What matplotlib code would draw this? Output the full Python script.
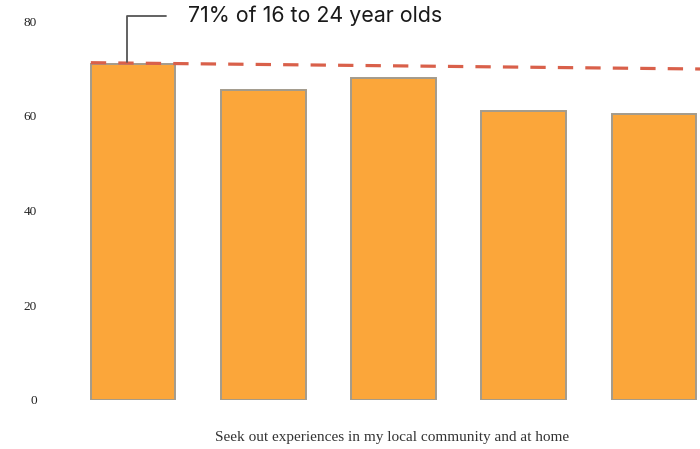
import matplotlib
matplotlib.use("Agg")
import matplotlib.pyplot as plt
import numpy as np

# share of respondents per age band who seek out local experiences
age_groups = ["16-24", "25-34", "35-44", "45-54", "55+"]
shares = [71, 65.5, 68, 61, 60.3]
trend = [71.2, 69.8]  # dashed guide from the first bar across the chart
y_ticks = [0, 20, 40, 60, 80]
x_label = "Seek out experiences in my local community and at home"
callout = "71% of 16 to 24 year olds"

BAR_FACE = "#FBA63A"
BAR_EDGE = "#A39B8C"
GUIDE = "#D9604A"

fig = plt.figure(figsize=(7.0, 4.49), dpi=100)
ax = fig.add_axes([70 / 700, 49 / 449, 630 / 700, 379 / 449])

x = np.arange(len(age_groups))
w = 0.65
ax.bar(x, shares, w, facecolor=BAR_FACE, edgecolor=BAR_EDGE, linewidth=1.4,
       zorder=2)

guide, = ax.plot([x[0] - w / 2, x[-1] + 0.6], trend, color=GUIDE, lw=2.3,
                 zorder=3, solid_capstyle="butt")
guide.set_dashes((4.8, 3.8))

# callout: elbow connector from the first bar up to the label
ax.annotate(callout, xy=(x[0] - 0.05, shares[0] + 0.4), xycoords="data",
            xytext=(188, 433), textcoords="figure pixels",
            ha="left", va="center", fontsize=15.4, family="Inter",
            color="#1a1a1a",
            arrowprops=dict(arrowstyle="-", color="#555555", lw=1.3,
                            connectionstyle="angle,angleA=0,angleB=90,rad=0",
                            shrinkA=14, shrinkB=0))

ax.set_xlim(-0.485, 4.354)
ax.set_ylim(0, 80)
ax.set_xticks([])
ax.set_yticks(y_ticks)
ax.set_yticklabels([str(t) for t in y_ticks], family="Liberation Serif",
                   fontsize=9.5, color="#222222")
ax.tick_params(axis="y", length=0, pad=24)
for s in ax.spines.values():
    s.set_visible(False)

fig.text(392 / 700, 1 - 437 / 449, x_label, ha="center", va="center",
         family="Liberation Serif", fontsize=11, color="#333333")

fig.savefig("out.png", dpi=100)
